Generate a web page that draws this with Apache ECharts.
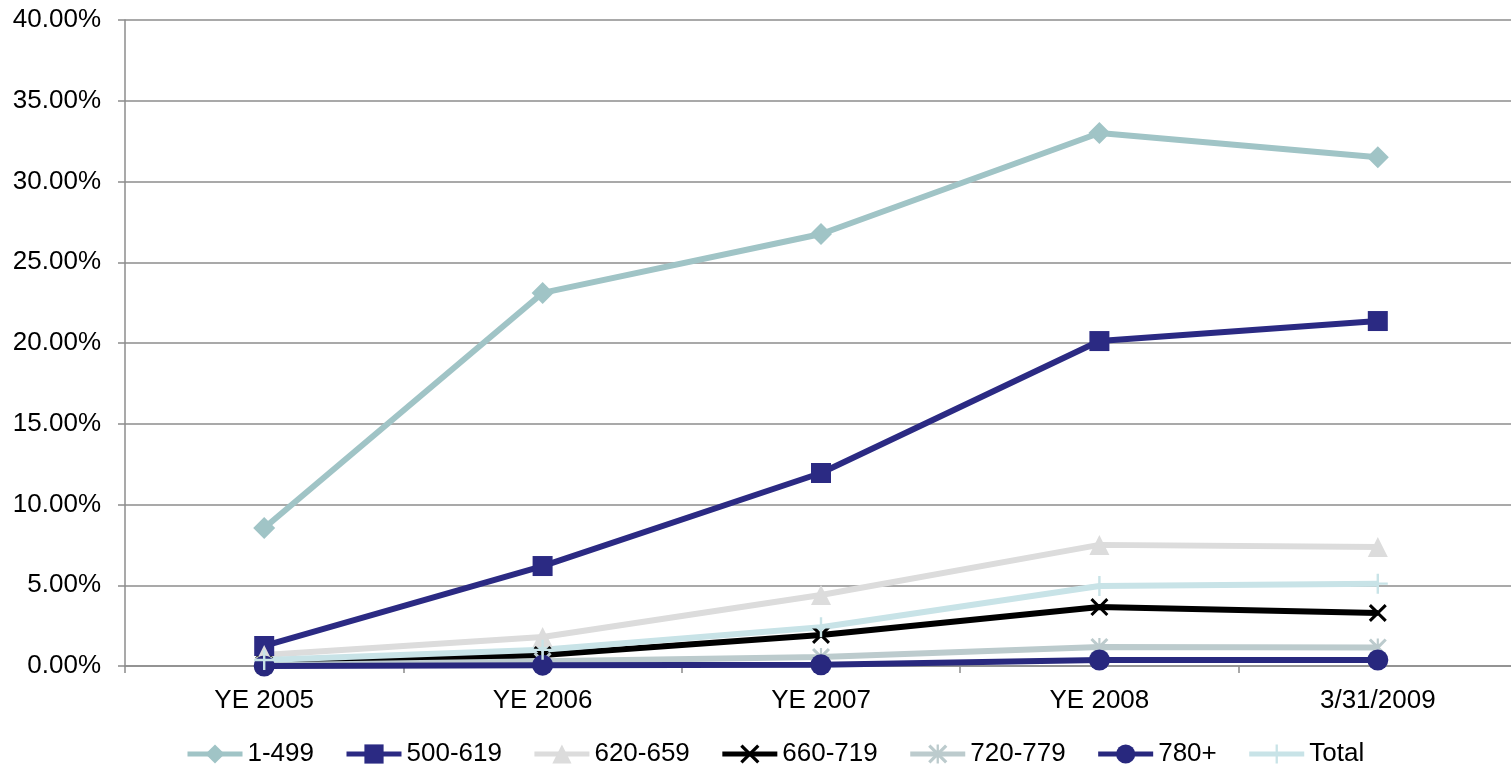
<!DOCTYPE html>
<html>
<head>
<meta charset="utf-8">
<script src="https://cdn.jsdelivr.net/npm/echarts@6/dist/echarts.min.js"></script>
<style>
  html, body { margin: 0; padding: 0; background: #fff; }
  #chart { width: 1511px; height: 766px; }
</style>
</head>
<body>
<div id="chart"></div>
<script>
// Periods on the x axis
const categories = ['YE 2005', 'YE 2006', 'YE 2007', 'YE 2008', '3/31/2009'];

// Rates per score band, in percent
const band1to499   = [8.54, 23.10, 26.75, 33.00, 31.50];
const band500to619 = [1.24, 6.19, 11.95, 20.12, 21.36];
const band620to659 = [0.68, 1.80, 4.40, 7.50, 7.37];
const band660to719 = [0.10, 0.68, 1.92, 3.65, 3.28];
const band720to779 = [0.05, 0.30, 0.56, 1.18, 1.15];
const band780plus  = [0.00, 0.05, 0.08, 0.37, 0.37];
const bandTotal    = [0.37, 1.00, 2.40, 4.95, 5.10];

const yTicks = { min: 0, max: 40, interval: 5 };

// Stroke-like marker shapes drawn as filled outlines
const xMark = 'path://M0,1.2L1.2,0L5,3.8L8.8,0L10,1.2L6.2,5L10,8.8L8.8,10L5,6.2L1.2,10L0,8.8L3.8,5Z';
const starMark = 'path://M0,1.2L1.2,0L5,3.8L8.8,0L10,1.2L6.2,5L10,8.8L8.8,10L5,6.2L1.2,10L0,8.8L3.8,5ZM4.4,0H5.6V10H4.4Z';
const plusMark = 'path://M4.4,0H5.6V4.4H10V5.6H5.6V10H4.4V5.6H0V4.4H4.4Z';

function mk(name, data, color, symbol, size, width) {
  return {
    name, type: 'line', data,
    symbol, symbolSize: size,
    showAllSymbol: true,
    lineStyle: { color, width },
    itemStyle: { color },
    emphasis: { disabled: true },
    animation: false
  };
}

const series = [
  mk('1-499',   band1to499,   '#a0c4c6', 'diamond',  22, 6),
  mk('500-619', band500to619, '#2b2a83', 'rect',     20, 6),
  mk('620-659', band620to659, '#dcdcdc', 'triangle', 20, 6),
  mk('660-719', band660to719, '#000000', xMark,      18, 6),
  mk('720-779', band720to779, '#bccbcd', starMark,   18, 6),
  mk('780+',    band780plus,  '#28287e', 'circle',   21, 6),
  mk('Total',   bandTotal,    '#c8e3e7', plusMark,   20, 6)
];

const chart = echarts.init(document.getElementById('chart'));
chart.setOption({
  backgroundColor: '#ffffff',
  animation: false,
  textStyle: { fontFamily: 'Liberation Sans, Arial, sans-serif' },
  grid: { left: 125, top: 20, width: 1392, height: 646, containLabel: false, outerBoundsMode: 'none' },
  legend: {
    left: 180, top: 736,
    itemWidth: 55, itemHeight: 24, itemGap: 30,
    lineStyle: { width: 5 },
    textStyle: { fontSize: 26, color: '#000', fontFamily: 'Liberation Sans, Arial, sans-serif' },
    data: series.map(s => s.name)
  },
  xAxis: {
    type: 'category',
    data: categories,
    boundaryGap: true,
    axisLine: { lineStyle: { color: '#8c8c8c', width: 1.5 } },
    axisTick: { show: true, length: 7, lineStyle: { color: '#8c8c8c', width: 1.5 } },
    axisLabel: { fontSize: 26, color: '#000', margin: 22 }
  },
  yAxis: {
    type: 'value',
    min: yTicks.min, max: yTicks.max, interval: yTicks.interval,
    axisLine: { show: true, lineStyle: { color: '#8c8c8c', width: 1.5 } },
    axisTick: { show: true, length: 7, lineStyle: { color: '#8c8c8c', width: 1.5 } },
    splitLine: { lineStyle: { color: '#8c8c8c', width: 1.5 } },
    axisLabel: { fontSize: 26, color: '#000', margin: 24, formatter: v => v.toFixed(2) + '%' }
  },
  series
});
</script>
</body>
</html>
